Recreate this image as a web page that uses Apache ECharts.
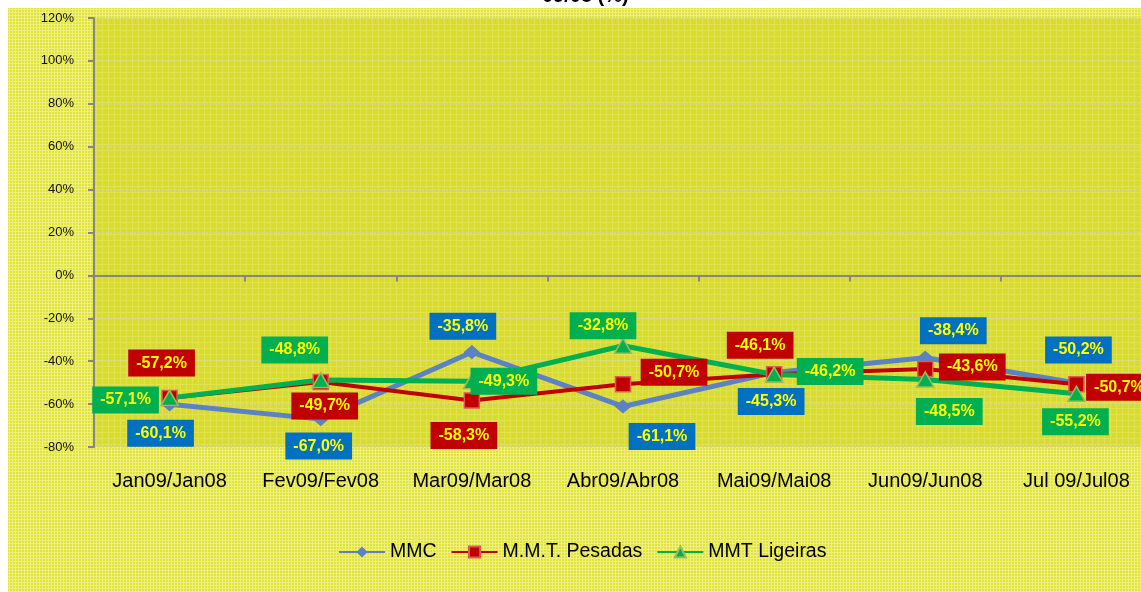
<!DOCTYPE html>
<html>
<head>
<meta charset="utf-8">
<script src="https://cdn.jsdelivr.net/npm/echarts@6/dist/echarts.min.js"></script>
<style>
html,body{margin:0;padding:0;background:#fff;}
#chart{width:1141px;height:592px;}
</style>
</head>
<body>
<div id="chart"></div>
<script>
var categories = ['Jan09/Jan08', 'Fev09/Fev08', 'Mar09/Mar08', 'Abr09/Abr08', 'Mai09/Mai08', 'Jun09/Jun08', 'Jul 09/Jul08'];
var mmc = [-60.1, -67.0, -35.8, -61.1, -45.3, -38.4, -50.2];
var pesadas = [-57.2, -49.7, -58.3, -50.7, -46.1, -43.6, -50.7];
var ligeiras = [-57.1, -48.8, -49.3, -32.8, -46.2, -48.5, -55.2];
var yMin = -80, yMax = 120, yStep = 20;

// where each value box sits, relative to its point
var mmcOff = [[-9, 29], [-2, 27], [-9, -26], [39, 30], [-3, 29], [28, -27], [2, -33]];
var pesOff = [[-8, -35], [4, 24], [-8, 35], [51, -12], [-14, -29], [47, -2], [43, 3]];
var ligOff = [[-44, 2], [-26, -30], [32, 0], [-20, -20], [56, -3], [24, 32], [-1, 28]];

function makePattern(base, line, size) {
    var c = document.createElement('canvas');
    c.width = size; c.height = size;
    var ctx = c.getContext('2d');
    ctx.fillStyle = base;
    ctx.fillRect(0, 0, size, size);
    ctx.fillStyle = line;
    ctx.fillRect(0, 0, size, 1);
    ctx.fillRect(0, 0, 1, size);
    return {image: c, repeat: 'repeat'};
}

var fmt = function (p) {
    return p.value.toFixed(1).replace('.', ',') + '%';
};

var buildData = function (vals, offs, box) {
    return vals.map(function (v, i) {
        return {
            value: v,
            label: {
                show: true,
                position: 'inside',
                offset: offs[i],
                formatter: fmt,
                color: '#ffff00',
                fontWeight: 'bold',
                fontSize: 16,
                fontFamily: 'Liberation Sans, Arial',
                backgroundColor: box,
                padding: [5, 8, 4, 8],
                lineHeight: 18
            }
        };
    });
};

var myChart = echarts.init(document.getElementById('chart'));
var option = {
    animation: false,
    textStyle: {fontFamily: 'Liberation Sans, Arial'},
    title: {
        text: '09/08 (%)',
        left: 537,
        top: -19,
        textStyle: {fontSize: 20, fontWeight: 'bold', color: '#000'}
    },
    graphic: [{
        type: 'rect',
        z: -100,
        shape: {x: 8, y: 8, width: 1140, height: 590},
        style: {fill: makePattern('#e1e23c', '#eef07c', 3)}
    }],
    grid: {
        left: 94,
        top: 18,
        width: 1058,
        height: 429,
        outerBoundsMode: 'none',
        containLabel: false,
        show: true,
        borderWidth: 0,
        backgroundColor: makePattern('#d9dc2e', '#e0e24e', 6)
    },
    legend: {
        left: 338,
        top: 542,
        padding: 0,
        itemWidth: 46,
        itemHeight: 14,
        itemGap: 14,
        textStyle: {fontSize: 19.5, color: '#000'},
        data: ['MMC', 'M.M.T. Pesadas', 'MMT Ligeiras']
    },
    xAxis: [
        {
            type: 'category',
            data: categories,
            axisLine: {onZero: true, lineStyle: {color: '#868686', width: 2}},
            axisTick: {show: true, length: 6, lineStyle: {color: '#868686', width: 2}},
            axisLabel: {show: false}
        },
        {
            type: 'category',
            data: categories,
            position: 'bottom',
            axisLine: {show: false, onZero: false},
            axisTick: {show: false},
            axisLabel: {margin: 24, fontSize: 20, color: '#000', interval: 0, hideOverlap: false}
        }
    ],
    yAxis: {
        type: 'value',
        min: yMin,
        max: yMax,
        interval: yStep,
        axisLine: {show: true, lineStyle: {color: '#868686', width: 2}},
        axisTick: {show: true, length: 6, lineStyle: {color: '#868686', width: 2}},
        axisLabel: {margin: 20, fontSize: 13, color: '#111', formatter: '{value}%'},
        splitLine: {lineStyle: {color: '#d0d0c8', type: [2, 2], width: 1.5}}
    },
    series: [
        {
            name: 'MMC',
            type: 'line',
            symbol: 'diamond',
            symbolSize: [15, 13],
            lineStyle: {color: '#5b82c4', width: 5},
            itemStyle: {color: '#5b82c4', borderColor: '#5b82c4'},
            data: buildData(mmc, mmcOff, '#0070c0')
        },
        {
            name: 'M.M.T. Pesadas',
            type: 'line',
            symbol: 'rect',
            symbolSize: 15,
            lineStyle: {color: '#c00000', width: 4},
            itemStyle: {color: '#c00000', borderColor: '#d95a5a', borderWidth: 1.5},
            data: buildData(pesadas, pesOff, '#c00000')
        },
        {
            name: 'MMT Ligeiras',
            type: 'line',
            symbol: 'triangle',
            symbolSize: [17, 15],
            lineStyle: {color: '#00b050', width: 5},
            itemStyle: {color: '#00b050', borderColor: '#9bbb59', borderWidth: 1.5},
            data: buildData(ligeiras, ligOff, '#00b050')
        }
    ]
};
myChart.setOption(option);
window.onresize = myChart.resize;
</script>
</body>
</html>
